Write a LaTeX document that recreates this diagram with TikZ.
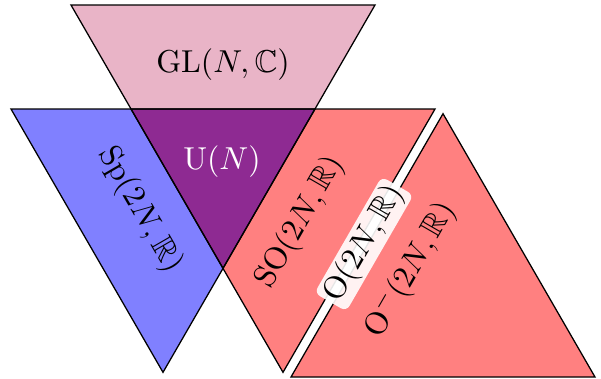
\documentclass[tikz,border=0pt]{standalone}
\usepackage{amssymb}
\definecolor{glpink}{RGB}{233,180,199}
\definecolor{spblue}{RGB}{128,128,255}
\definecolor{sored}{RGB}{255,128,128}
\definecolor{upurple}{RGB}{142,42,146}
\begin{document}
\begin{tikzpicture}[x=0.3155pt,y=-0.3155pt,line width=0.4pt,
  tri/.style={draw=black},
  lab/.style={inner sep=0pt,font=\normalsize},
  gapbox/.style={fill=white,fill opacity=0.9,text opacity=1,rounded corners=2pt,inner sep=0.8pt}]
\useasboundingbox (0,0) rectangle (601,378);
% fills
\fill[glpink] (71,5) -- (375,5) -- (223,268.3) -- cycle;
\fill[spblue] (11,109) -- (315,109) -- (163,372.3) -- cycle;
\fill[sored] (131,109) -- (435,109) -- (283,372.3) -- cycle;
\fill[sored] (291,377) -- (595,377) -- (443,113.7) -- cycle;
\fill[upurple] (131,109) -- (315,109) -- (223,268.3) -- cycle;
% outlines
\draw[tri] (71,5) -- (375,5) -- (223,268.3) -- cycle;
\draw[tri] (11,109) -- (315,109) -- (163,372.3) -- cycle;
\draw[tri] (131,109) -- (435,109) -- (283,372.3) -- cycle;
\draw[tri] (291,377) -- (595,377) -- (443,113.7) -- cycle;
% labels
\node[lab] (gl) at (223,65) {$\mathrm{GL}(N,\mathbb{C})$};
\node[lab,text=white] (u) at (222,162) {$\mathrm{U}(N)$};
\node[lab,rotate=-60] (sp) at (140,210) {$\mathrm{Sp}(2N,\mathbb{R})$};
\node[lab,rotate=60] (so) at (300,222) {$\mathrm{SO}(2N,\mathbb{R})$};
\node[lab,rotate=60] (om) at (410,270) {$\mathrm{O}^{-}(2N,\mathbb{R})$};
\node[gapbox,rotate=60] (o) at (364,244) {$\mathrm{O}(2N,\mathbb{R})$};
\end{tikzpicture}
\end{document}
